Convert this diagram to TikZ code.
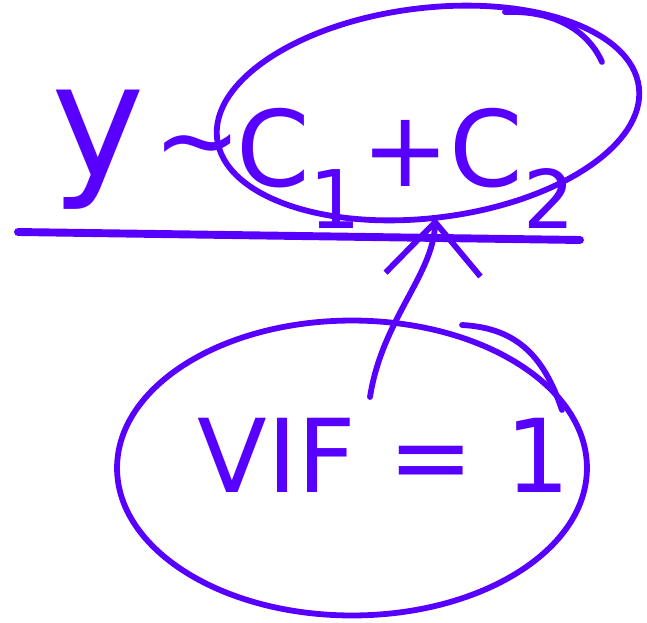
\documentclass[tikz,border=0pt]{standalone}
\usepackage{fontspec}
\setmainfont{DejaVu Sans}
\usetikzlibrary{shapes.geometric,arrows.meta}
\definecolor{ink}{RGB}{88,0,255}
\tikzset{
  pen/.style={draw=ink, line width=3.3pt, line cap=round},
  ring/.style={pen, ellipse, inner sep=0pt, outer sep=0pt},
  scrawl/.style={text=ink, inner sep=0pt, font=\fontsize{60}{60}\selectfont},
}
\newcommand{\lowidx}[1]{\raisebox{-0.4em}{\fontsize{46}{46}\selectfont #1}}

\begin{document}
\begin{tikzpicture}[x=0.02cm, y=-0.02cm]
    \useasboundingbox (0,0) rectangle (647,623);

    % Model formula on top
    \node[scrawl, font=\fontsize{90}{90}\selectfont] (resp) at (98,150) {y};
    \node[scrawl] (tilde) at (198,155) {\textasciitilde};
    \node[scrawl, anchor=base west] (preds) at (236,186) {C\lowidx{1}+C\lowidx{2}};
    \node[ring, minimum width=8.5cm, minimum height=4.2cm, rotate=7] (predring) at (428,113) {};
    \draw[pen] (505,12) .. controls (560,10) and (590,35) .. (602,62);

    % Rule under the formula
    \coordinate (ruleL) at (18,232);
    \coordinate (ruleR) at (580,240);
    \draw[pen, line width=4.5pt] (ruleL) -- (ruleR);

    % VIF ring below
    \node[scrawl, anchor=base west, font=\fontsize{58}{58}\selectfont] (vif) at (197,492) {VIF = 1};
    \node[ring, minimum width=9.4cm, minimum height=5.9cm] (vifring) at (352,468) {};
    \draw[pen] (462,325) .. controls (520,328) and (545,360) .. (562,410);

    % Arrow up
    \coordinate (vifstart) at (370,397);
    \draw[pen, -{Straight Barb[length=1.05cm, width=1.9cm]}]
        (vifstart) .. controls (382,320) and (433,275) .. (predring.267);
\end{tikzpicture}
\end{document}
